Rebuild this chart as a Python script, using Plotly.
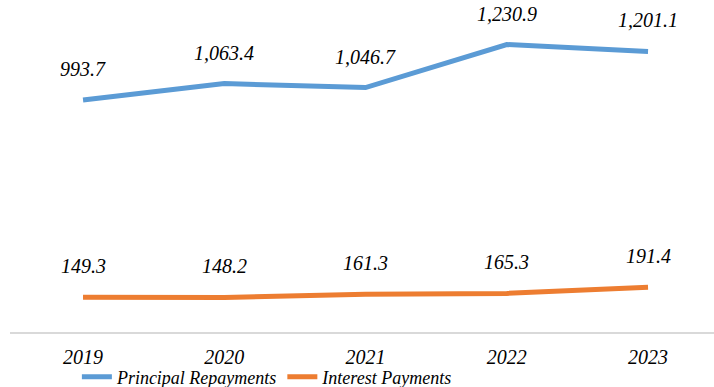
import plotly.graph_objects as go

years = ["2019", "2020", "2021", "2022", "2023"]
principal = [993.7, 1063.4, 1046.7, 1230.9, 1201.1]
interest = [149.3, 148.2, 161.3, 165.3, 191.4]

BLUE = "#5B9BD5"
ORANGE = "#ED7D31"
FONT = "Liberation Serif"

fig = go.Figure()
fig.add_trace(go.Scatter(x=years, y=principal, mode="lines", name="<i>Principal Repayments</i>",
                         line=dict(color=BLUE, width=5)))
fig.add_trace(go.Scatter(x=years, y=interest, mode="lines", name="<i>Interest Payments</i>",
                         line=dict(color=ORANGE, width=5)))

annotations = []
for series in (principal, interest):
    for i, v in enumerate(series):
        annotations.append(dict(x=i, y=v, xref="x", yref="y", text=f"<i>{v:,.1f}</i>",
                                showarrow=False, yanchor="middle", yshift=31,
                                font=dict(family=FONT, size=20, color="#000000")))

fig.update_layout(
    width=714, height=387,
    font=dict(family=FONT, color="#000000"),
    margin=dict(l=10, r=0, t=5, b=55, autoexpand=False),
    paper_bgcolor="white", plot_bgcolor="white",
    showlegend=True,
    legend=dict(orientation="h", x=0.095, xanchor="left", yref="container",
                y=0.026, yanchor="middle",
                font=dict(family=FONT, size=18, color="#000000"),
                itemwidth=30, tracegroupgap=0, bgcolor="rgba(0,0,0,0)"),
    annotations=annotations,
    xaxis=dict(type="category", range=[-0.517, 4.467], showgrid=False, zeroline=False,
               showline=True, linecolor="#D9D9D9", linewidth=2,
               ticks="", tickfont=dict(family=FONT, size=20, color="#000000"),
               ticklabelstandoff=6,
               tickvals=years, ticktext=[f"<i>{y}</i>" for y in years]),
    yaxis=dict(range=[0, 1400], showgrid=False, zeroline=False, showline=False,
               showticklabels=False, ticks=""),
)

fig.write_html("out.html")
